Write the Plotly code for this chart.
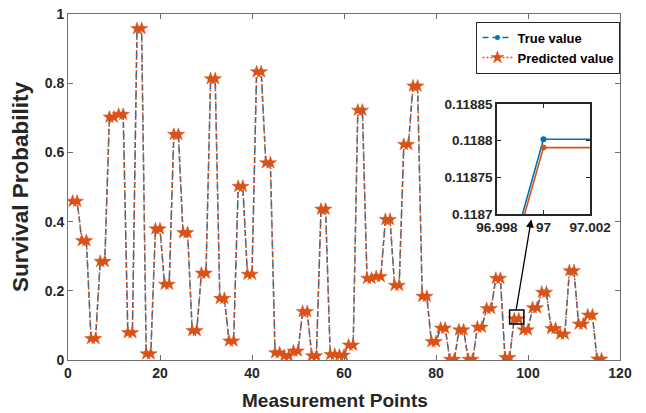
import plotly.graph_objects as go

# ---------------- data ----------------
measurement_points = list(range(1, 117))

true_values = [
    0.459, 0.459, 0.345, 0.345, 0.062, 0.062, 0.285, 0.285, 0.702, 0.702,
    0.710, 0.710, 0.079, 0.079, 0.958, 0.958, 0.018, 0.018, 0.379, 0.379,
    0.219, 0.219, 0.652, 0.652, 0.368, 0.368, 0.085, 0.085, 0.251, 0.251,
    0.813, 0.813, 0.178, 0.178, 0.055, 0.055, 0.502, 0.502, 0.248, 0.248,
    0.833, 0.833, 0.570, 0.570, 0.021, 0.021, 0.012, 0.012, 0.026, 0.026,
    0.140, 0.140, 0.012, 0.012, 0.436, 0.436, 0.016, 0.016, 0.014, 0.014,
    0.043, 0.043, 0.722, 0.722, 0.236, 0.236, 0.241, 0.241, 0.406, 0.406,
    0.216, 0.216, 0.623, 0.623, 0.792, 0.792, 0.184, 0.184, 0.053, 0.053,
    0.092, 0.092, 0.002, 0.002, 0.087, 0.087, 0.002, 0.002, 0.095, 0.095,
    0.149, 0.149, 0.236, 0.236, 0.0058, 0.0058, 0.1188018, 0.1188018, 0.087, 0.087,
    0.151, 0.151, 0.196, 0.196, 0.091, 0.091, 0.075, 0.075, 0.258, 0.258,
    0.104, 0.104, 0.130, 0.130, 0.003, 0.003,
]

predicted_values = [
    0.459, 0.459, 0.345, 0.345, 0.062, 0.062, 0.285, 0.285, 0.702, 0.702,
    0.710, 0.710, 0.079, 0.079, 0.958, 0.958, 0.018, 0.018, 0.379, 0.379,
    0.219, 0.219, 0.652, 0.652, 0.368, 0.368, 0.085, 0.085, 0.251, 0.251,
    0.813, 0.813, 0.178, 0.178, 0.055, 0.055, 0.502, 0.502, 0.248, 0.248,
    0.833, 0.833, 0.570, 0.570, 0.021, 0.021, 0.012, 0.012, 0.026, 0.026,
    0.140, 0.140, 0.012, 0.012, 0.436, 0.436, 0.016, 0.016, 0.014, 0.014,
    0.043, 0.043, 0.722, 0.722, 0.236, 0.236, 0.241, 0.241, 0.406, 0.406,
    0.216, 0.216, 0.623, 0.623, 0.792, 0.792, 0.184, 0.184, 0.053, 0.053,
    0.092, 0.092, 0.002, 0.002, 0.087, 0.087, 0.002, 0.002, 0.095, 0.095,
    0.149, 0.149, 0.236, 0.236, 0.0071, 0.0071, 0.1187905, 0.1187905, 0.087, 0.087,
    0.151, 0.151, 0.196, 0.196, 0.091, 0.091, 0.075, 0.075, 0.258, 0.258,
    0.104, 0.104, 0.130, 0.130, 0.003, 0.003,
]

x_ticks = [0, 20, 40, 60, 80, 100, 120]
y_ticks = [0, 0.2, 0.4, 0.6, 0.8, 1]
y_tick_labels = ["0", "0.2", "0.4", "0.6", "0.8", "1"]

x_title = "Measurement Points"
y_title = "Survival Probability"

zoom_point = 97
inset_x_ticks = [96.998, 97, 97.002]
inset_x_labels = ["96.998", "97", "97.002"]
inset_y_ticks = [0.1187, 0.11875, 0.1188, 0.11885]
inset_y_labels = ["0.1187", "0.11875", "0.1188", "0.11885"]

# ---------------- styling ----------------
BLUE = "#0072BD"
ORANGE = "#D95319"
FONT = "Liberation Sans"
TXT = "#262626"
AX_MAIN = "#707070"
AX_INSET = "#262626"

fig = go.Figure()

fig.add_trace(go.Scatter(
    x=measurement_points, y=true_values, name="True value",
    mode="lines+markers",
    line=dict(color=BLUE, width=1.5, dash="6px,4px"),
    marker=dict(symbol="circle", size=5, color=BLUE),
    xaxis="x", yaxis="y",
))
fig.add_trace(go.Scatter(
    x=measurement_points, y=predicted_values, name="Predicted value",
    mode="lines+markers",
    line=dict(color=ORANGE, width=1.5, dash="2px,2px"),
    marker=dict(symbol="star", size=9.5, color=ORANGE,
                line=dict(color=ORANGE, width=0.5)),
    xaxis="x", yaxis="y",
))

# inset traces
fig.add_trace(go.Scatter(
    x=measurement_points, y=true_values, mode="lines+markers",
    line=dict(color=BLUE, width=1.6), marker=dict(size=6, color=BLUE),
    xaxis="x2", yaxis="y2", showlegend=False, cliponaxis=True,
))
fig.add_trace(go.Scatter(
    x=measurement_points, y=predicted_values, mode="lines+markers",
    line=dict(color=ORANGE, width=1.6), marker=dict(size=6, color=ORANGE),
    xaxis="x2", yaxis="y2", showlegend=False, cliponaxis=True,
))

zi = measurement_points.index(zoom_point)
zv = true_values[zi]

fig.update_layout(
    width=646, height=413,
    margin=dict(l=68, r=26, t=14, b=53, autoexpand=False),
    paper_bgcolor="white", plot_bgcolor="white",
    font=dict(family=FONT, color=TXT, size=14, weight="bold"),
    showlegend=True,
    legend=dict(
        x=0.74, y=0.978, xanchor="left", yanchor="top",
        bordercolor=AX_INSET, borderwidth=1, bgcolor="white",
        font=dict(size=13, family=FONT, color="black", weight="bold"),
        tracegroupgap=0, itemwidth=30,
    ),
    xaxis=dict(
        range=[0, 120], tickvals=x_ticks, ticks="inside", ticklen=5,
        tickcolor=AX_MAIN, showline=True, linecolor=AX_MAIN, linewidth=1,
        mirror="ticks", showgrid=False, zeroline=False,
        tickfont=dict(size=14, weight="bold"),
        domain=[0, 1],
    ),
    yaxis=dict(
        range=[0, 1], tickvals=y_ticks, ticktext=y_tick_labels,
        ticks="inside", ticklen=5,
        tickcolor=AX_MAIN, showline=True, linecolor=AX_MAIN, linewidth=1,
        mirror="ticks", showgrid=False, zeroline=False,
        tickfont=dict(size=14, weight="bold"),
        title=dict(text=y_title, font=dict(size=22.5, weight="bold"),
                   standoff=9),
        domain=[0, 1],
    ),
    xaxis2=dict(
        domain=[0.777, 0.9457], anchor="y2",
        range=[inset_x_ticks[0], inset_x_ticks[-1]],
        tickvals=inset_x_ticks, ticktext=inset_x_labels,
        ticks="inside", ticklen=4, tickcolor=AX_INSET,
        showline=True, linecolor=AX_INSET, linewidth=1.5, mirror="ticks",
        showgrid=False, zeroline=False,
        tickfont=dict(size=13.5, weight="bold"),
    ),
    yaxis2=dict(
        domain=[0.422, 0.740], anchor="x2",
        range=[inset_y_ticks[0], inset_y_ticks[-1]],
        tickvals=inset_y_ticks, ticktext=inset_y_labels,
        ticks="inside", ticklen=4, tickcolor=AX_INSET,
        showline=True, linecolor=AX_INSET, linewidth=1.5, mirror="ticks",
        showgrid=False, zeroline=False,
        tickfont=dict(size=13.5, weight="bold"),
    ),
    shapes=[dict(
        type="rect", xref="x", yref="y",
        x0=zoom_point - 1.0, x1=zoom_point + 2.1,
        y0=zv - 0.015, y1=zv + 0.026,
        line=dict(color="black", width=1.5), fillcolor="rgba(0,0,0,0)",
    )],
    annotations=[
        dict(
            xref="x", yref="y", axref="x", ayref="y",
            x=zoom_point + 3.7, y=zv + 0.287,
            ax=zoom_point + 0.4, ay=zv + 0.024,
            showarrow=True, arrowhead=2, arrowsize=1.2, arrowwidth=1.3,
            arrowcolor="black", text="",
        ),
        dict(
            xref="paper", yref="paper", x=0.484, y=-0.116,
            xanchor="center", yanchor="middle", showarrow=False,
            text=x_title, font=dict(size=19, weight="bold", color=TXT, family=FONT),
        ),
    ],
)

fig.write_html(
    "out.html",
    config={"displayModeBar": False},
    post_script="document.body.style.margin='0';document.body.style.padding='0';",
)
